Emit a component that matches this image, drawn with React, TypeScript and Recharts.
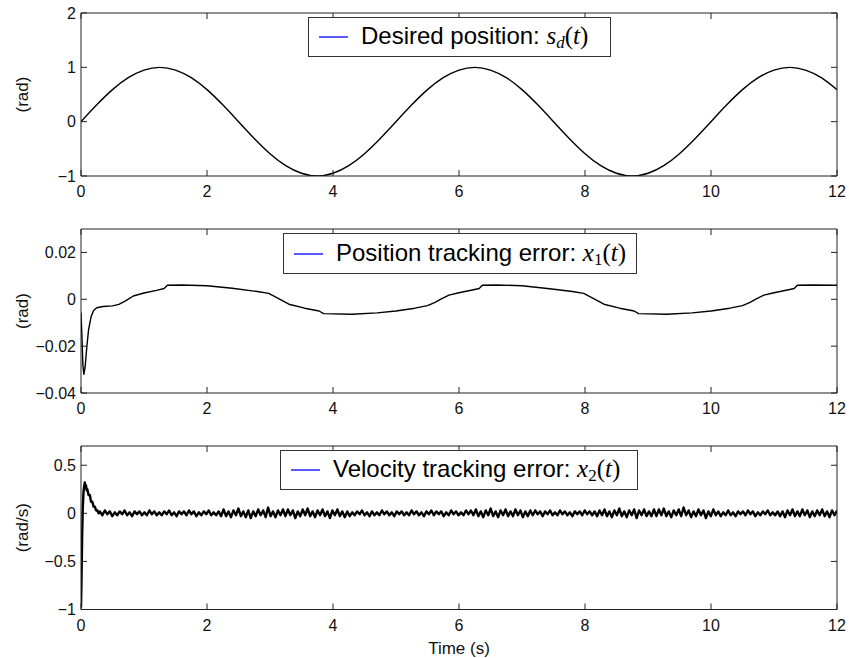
import React from 'react';
import { LineChart, Line, XAxis, YAxis, Legend } from 'recharts';

const SANS = '"Liberation Sans", Arial, Helvetica, sans-serif';
const SERIF = '"Liberation Serif", "Times New Roman", serif';

// shared x axis
const xTicks = [0, 2, 4, 6, 8, 10, 12];

// ---- panel 1: desired position s_d(t), sampled every 0.25 s ----
const sdStep = 0.25;
const sdValues = [
  0, 0.31, 0.59, 0.81, 0.95, 1.0, 0.95, 0.81, 0.59, 0.31,
  0, -0.31, -0.59, -0.81, -0.95, -1.0, -0.95, -0.81, -0.59, -0.31,
  0, 0.31, 0.59, 0.81, 0.95, 1.0, 0.95, 0.81, 0.59, 0.31,
  0, -0.31, -0.59, -0.81, -0.95, -1.0, -0.95, -0.81, -0.59, -0.31,
  0, 0.31, 0.59, 0.81, 0.95, 1.0, 0.95, 0.81, 0.59,
];
const sdTicks = [-1, 0, 1, 2];

// ---- panel 2: position tracking error x1(t) ----
const x1Times = [
  0, 0.015, 0.03, 0.045, 0.065, 0.09, 0.12, 0.16, 0.2, 0.25, 0.35, 0.5, 0.6, 0.7, 0.83,
  1.0, 1.2, 1.32, 1.37, 1.6, 2.0, 2.4, 2.8, 2.98, 3.1, 3.3, 3.55, 3.78, 3.85, 4.3,
  4.7, 5.0, 5.3, 5.5, 5.62, 5.72, 5.84, 6.0, 6.25, 6.32, 6.37, 6.6, 7.0, 7.44, 7.8,
  7.98, 8.1, 8.3, 8.55, 8.78, 8.85, 9.3, 9.7, 10.0, 10.3, 10.5, 10.62, 10.72, 10.84, 11.0,
  11.25, 11.32, 11.37, 11.6, 12.0,
];
const x1Values = [
  -0.0057, -0.016, -0.028, -0.032, -0.029, -0.021, -0.013, -0.0075, -0.0048, -0.0036, -0.0031, -0.0028, -0.0022, -0.0008, 0.0014,
  0.0027, 0.0038, 0.0046, 0.006, 0.0061, 0.0058, 0.0047, 0.0033, 0.0025, 0.0008, -0.0021, -0.0038, -0.005, -0.0061, -0.0064,
  -0.0058, -0.005, -0.0038, -0.0027, -0.0013, 0.0002, 0.0018, 0.0028, 0.0042, 0.0046, 0.006, 0.0061, 0.0058, 0.0045, 0.0033,
  0.0025, 0.0008, -0.0021, -0.0038, -0.005, -0.0061, -0.0064, -0.0058, -0.005, -0.0038, -0.0027, -0.0013, 0.0002, 0.0018, 0.0028,
  0.0042, 0.0046, 0.006, 0.0061, 0.006,
];
const x1Ticks = [-0.04, -0.02, 0, 0.02];

// ---- panel 3: velocity tracking error x2(t) ----
const x2TransientTimes = [0, 0.008, 0.018, 0.028, 0.04, 0.05, 0.06, 0.07, 0.08, 0.09, 0.1, 0.12, 0.14, 0.16, 0.18, 0.2, 0.22, 0.24, 0.26, 0.28];
const x2TransientValues = [-0.98, -0.7, -0.25, 0.05, 0.22, 0.28, 0.32, 0.27, 0.29, 0.24, 0.25, 0.19, 0.19, 0.12, 0.12, 0.07, 0.07, 0.03, 0.03, 0.0];
const x2NoiseStart = 0.3;
const x2NoiseEnd = 12;
// noise readings in hundredths of rad/s, evenly spaced from 0.3 s to 12 s
const x2NoiseHundredths = [
  2, -2, 3, -1, 2, -3, 1, -2, 2, -1, 3, -2, 1, -3, 2, -1, 2, -2, 1, -2, 3, -1, 2, -2, 1,
  -2, 2, -1, 3, -2, 1, -3, 2, -1, 2, -2, 3, -1, 2, -3, 1, -2, 2, -1, 3, -2, 1, -2, 2, -3,
  4, -3, 2, -4, 3, -2, 5, -3, 2, -4, 3, -5, 2, -3, 4, -2, 3, -4, 6, -3, 2, -4, 3, -2, 4,
  -3, 4, -2, 3, -5, 2, -3, 4, -2, 5, -3, 2, -4, 3, -2, 4, -3, 2, -5, 3, -2, 4, -3, 2, -4,
  2, -3, 1, -2, 2, -1, 3, -2, 1, -3, 2, -2, 1, -2, 3, -1, 2, -2, 1, -3, 2, -1, 2, -2, 1,
  -2, 3, -1, 2, -2, 1, -3, 2, -1, 3, -2, 2, -1, 2, -3, 1, -2, 3, -1, 2, -2, 1, -2, 3, -1,
  3, -2, 4, -3, 2, -4, 3, -2, 5, -3, 2, -4, 3, -2, 4, -3, 2, -3, 4, -2, 3, -4, 2, -3, 3,
  -2, 3, -1, 2, -3, 2, -1, 3, -2, 1, -2, 3, -1, 2, -2, 1, -3, 2, -1, 2, -2, 3, -1, 2, -2,
  2, -3, 3, -2, 4, -3, 2, -4, 3, -2, 5, -3, 2, -4, 3, -2, 4, -5, 3, -2, 4, -3, 2, -3, 4,
  -3, 4, -2, 5, -3, 2, -4, 3, -2, 4, -3, 6, -2, 3, -4, 2, -3, 4, -2, 3, -5, 2, -3, 4, -2,
  2, -3, 1, -2, 3, -2, 1, -3, 2, -1, 2, -2, 3, -1, 2, -3, 1, -2, 2, -1, 3, -2, 1, -2, 2,
  -3, 2, -4, 3, -2, 4, -3, 2, -3, 4, -2, 3, -4, 2, -3, 3, -2, 4, -3, 2, -4, 3, -2, 3,
];
const x2Ticks = [-1, -0.5, 0, 0.5];

// ---- build tables ----
const sdData = sdValues.map((v, i) => ({ t: i * sdStep, v }));
const x1Data = x1Times.map((t, i) => ({ t, v: x1Values[i] }));
const noiseStep = (x2NoiseEnd - x2NoiseStart) / (x2NoiseHundredths.length - 1);
const x2Data = [
  ...x2TransientTimes.map((t, i) => ({ t, v: x2TransientValues[i] })),
  ...x2NoiseHundredths.map((h, i) => ({ t: x2NoiseStart + i * noiseStep, v: h / 100 })),
];

const fmt = (v: number) => (v === 0 ? '0' : String(v).replace('-', '\u2212'));
const noTick = () => <g />;

const AXIS = '#222';

function LegendBox({ w, h, children }: { w: number; h: number; children: React.ReactNode }) {
  return (
    <div
      style={{
        boxSizing: 'border-box', width: w, height: h, border: '1px solid #333', background: '#fff',
        display: 'flex', alignItems: 'center', paddingLeft: 10, fontFamily: SANS, fontSize: 24,
        color: '#000', whiteSpace: 'nowrap', lineHeight: 1,
      }}
    >
      <svg width={29} height={4} style={{ marginRight: 13, display: 'block' }}>
        <line x1={0} y1={2} x2={29} y2={2} stroke="#2f2fff" strokeWidth={1.6} />
      </svg>
      {children}
    </div>
  );
}

const mathVar = (base: string, sub: string) => (
  <span style={{ fontFamily: SERIF, fontSize: 25 }}>
    <i>{base}</i>
    <sub style={{ fontSize: 17, fontStyle: sub === 'd' ? 'italic' : 'normal', verticalAlign: -4 }}>{sub}</sub>
    (<i>t</i>)
  </span>
);

type PanelProps = {
  top: number; height: number; mTop: number; mBottom: number;
  data: { t: number; v: number }[]; yDomain: [number, number]; yTicks: number[];
  yLabel: string; name: string; legend: React.ReactNode; legendBox: { x: number; y: number; w: number; h: number };
  xLabel?: string; curve: 'natural' | 'linear'; strokeWidth: number;
};

function Panel(p: PanelProps) {
  return (
    <div style={{ position: 'absolute', left: 0, top: p.top, width: 849, height: p.height }}>
      <LineChart width={849} height={p.height} data={p.data} margin={{ top: p.mTop, right: 11, bottom: p.mBottom, left: 11 }}>
        <XAxis
          xAxisId="b" dataKey="t" type="number" domain={[0, 12]} ticks={xTicks} interval={0}
          allowDataOverflow height={30} tickSize={-6} tickMargin={16} stroke={AXIS}
          tick={{ fill: '#111', fontSize: 16, fontFamily: SANS }}
          label={p.xLabel ? { value: p.xLabel, position: 'bottom', offset: 2, fill: '#111', fontSize: 17, fontFamily: SANS } : undefined}
        />
        <XAxis xAxisId="t" dataKey="t" orientation="top" type="number" domain={[0, 12]} ticks={xTicks} interval={0}
          allowDataOverflow height={1} tickSize={-6} stroke={AXIS} tick={noTick} />
        <YAxis
          yAxisId="l" dataKey="v" type="number" domain={p.yDomain} ticks={p.yTicks} interval={0} allowDataOverflow
          width={70} tickSize={-6} tickMargin={11} stroke={AXIS} tickFormatter={fmt}
          tick={{ fill: '#111', fontSize: 16, fontFamily: SANS }}
          label={{ value: p.yLabel, angle: -90, position: 'insideLeft', offset: 11, fill: '#111', fontSize: 17, fontFamily: SANS, style: { textAnchor: 'middle' } }}
        />
        <YAxis yAxisId="r" dataKey="v" orientation="right" type="number" domain={p.yDomain} ticks={p.yTicks} interval={0}
          allowDataOverflow width={1} tickSize={-6} stroke={AXIS} tick={noTick} />
        <Line
          xAxisId="b" yAxisId="l" dataKey="v" name={p.name} type={p.curve} stroke="#000"
          strokeWidth={p.strokeWidth} strokeLinejoin="round" dot={false} activeDot={false} isAnimationActive={false}
        />
        <Legend
          layout="horizontal" verticalAlign="middle" align="center"
          wrapperStyle={{ left: p.legendBox.x, top: p.legendBox.y - p.top, width: p.legendBox.w, height: p.legendBox.h }}
          content={() => <LegendBox w={p.legendBox.w} h={p.legendBox.h}>{p.legend}</LegendBox>}
        />
      </LineChart>
    </div>
  );
}

export default function App() {
  return (
    <div style={{ position: 'absolute', left: 0, top: 0, width: 849, height: 658, background: '#fff', overflow: 'hidden' }}>
      <Panel
        top={0} height={215} mTop={12} mBottom={9} data={sdData} yDomain={[-1, 2]} yTicks={sdTicks}
        yLabel="(rad)" name="Desired position" curve="natural" strokeWidth={1.4}
        legendBox={{ x: 308, y: 17, w: 303, h: 40 }}
        legend={<span>Desired position:&nbsp;{mathVar('s', 'd')}</span>}
      />
      <Panel
        top={215} height={215} mTop={13} mBottom={7} data={x1Data} yDomain={[-0.04, 0.03]} yTicks={x1Ticks}
        yLabel="(rad)" name="Position tracking error" curve="linear" strokeWidth={1.4}
        legendBox={{ x: 283, y: 233, w: 354, h: 41 }}
        legend={<span>Position tracking error:&nbsp;{mathVar('x', '1')}</span>}
      />
      <Panel
        top={430} height={228} mTop={15} mBottom={18.5} data={x2Data} yDomain={[-1, 0.7]} yTicks={x2Ticks}
        yLabel="(rad/s)" name="Velocity tracking error" curve="linear" strokeWidth={2.4}
        legendBox={{ x: 280, y: 450, w: 358, h: 40 }}
        legend={<span>Velocity tracking error:&nbsp;{mathVar('x', '2')}</span>}
        xLabel="Time (s)"
      />
    </div>
  );
}
